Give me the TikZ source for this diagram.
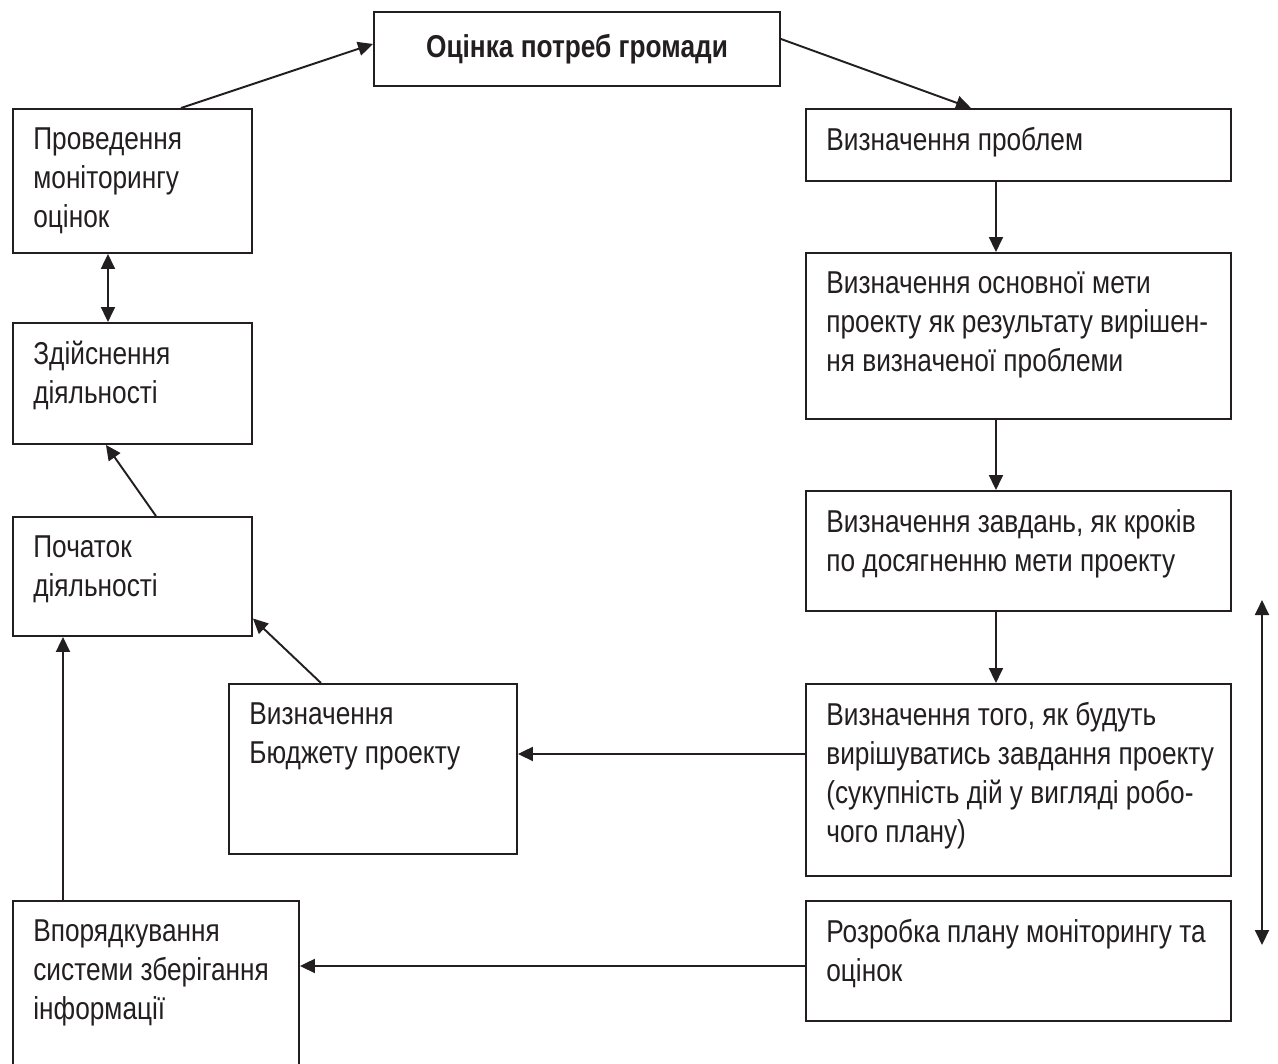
\documentclass[tikz,border=0pt]{standalone}
\usepackage{fontspec}
\setmainfont[FakeStretch=0.83]{Liberation Sans}
\usepackage{xcolor}
\usetikzlibrary{arrows.meta}
\tikzset{>={Triangle[length=0.3cm,width=0.28cm]}}
\definecolor{ink}{HTML}{231F20}
\tikzset{
  frame/.style={draw=ink,line width=1.1pt,anchor=north west,inner sep=0pt},
  caption/.style={anchor=north west,align=left,inner sep=0pt,text=ink,
    font=\fontsize{18}{22.2}\selectfont},
  link/.style={->,draw=ink,line width=1.1pt},
}
% name, x, y, width, height (px), text
\newcommand{\stage}[6]{%
  \node[frame,minimum width=#4*0.02cm,minimum height=#5*0.02cm] (#1) at (#2,#3) {};
  \node[caption] (#1-t) at ([xshift=0.42cm,yshift=-0.38cm]#1.north west) {#6};
}

\begin{document}
\begin{tikzpicture}[x=0.02cm,y=-0.02cm]
\useasboundingbox (0,0) rectangle (1278,1063);
\node[frame,minimum width=406*0.02cm,minimum height=74*0.02cm,text=ink,
  font=\fontsize{18}{22.2}\selectfont\bfseries] (needs) at (373,11) {Оцінка потреб громади};
% left column
\stage{monitor}{12}{108}{239}{144}{Проведення\\моніторингу\\оцінок}
\stage{act}{12}{322}{239}{121}{Здійснення\\діяльності}
\stage{start}{12}{516}{239}{119}{Початок\\діяльності}
\stage{budget}{228}{683}{288}{170}{Визначення\\Бюджету проекту}
\stage{store}{12}{900}{286}{175}{Впорядкування\\системи зберігання\\інформації}
% right column
\stage{problem}{805}{108}{425}{72}{Визначення проблем}
\stage{goal}{805}{252}{425}{166}{Визначення основної мети\\проекту як результату вирішен-\\ня визначеної проблеми}
\stage{tasks}{805}{490}{425}{120}{Визначення завдань, як кроків\\по досягненню мети проекту}
\stage{how}{805}{683}{425}{192}{Визначення того, як будуть\\вирішуватись завдання проекту\\(сукупність дій у вигляді робо-\\чого плану)}
\stage{plan}{805}{900}{425}{120}{Розробка плану моніторингу та\\оцінок}
\coordinate (span-top) at (1262,600);
\coordinate (span-bot) at (1262,945);

% connectors
\draw[link] ([xshift=0.97cm]monitor.north) -- ([yshift=0.1cm]needs.west);
\draw[link] ([yshift=0.2cm]needs.east) -- ([xshift=-0.95cm]problem.north);
\draw[link] ([xshift=-0.45cm]problem.south) -- ([xshift=-0.45cm]goal.north);
\draw[link] ([xshift=-0.45cm]goal.south) -- ([xshift=-0.45cm]tasks.north);
\draw[link] ([xshift=-0.45cm]tasks.south) -- ([xshift=-0.45cm]how.north);
\draw[link] ([yshift=0.52cm]how.west) -- ([yshift=0.52cm]how.west -| budget.east);
\draw[link] ([yshift=-0.1cm]plan.west) -- ([yshift=-0.1cm]plan.west -| store.east);
\draw[link] ([xshift=-1.04cm]budget.north) -- ([yshift=-0.84cm]start.east);
\draw[link] ([xshift=-1.86cm]store.north) -- ([xshift=-1.86cm]store.north |- start.south);
\draw[link] ([xshift=0.47cm]start.north) -- ([xshift=-0.53cm]act.south);
\draw[link,<->] ([xshift=-0.49cm]monitor.south) -- ([xshift=-0.49cm]act.north);
\draw[link,<->] (span-top) -- (span-bot);
\end{tikzpicture}
\end{document}
